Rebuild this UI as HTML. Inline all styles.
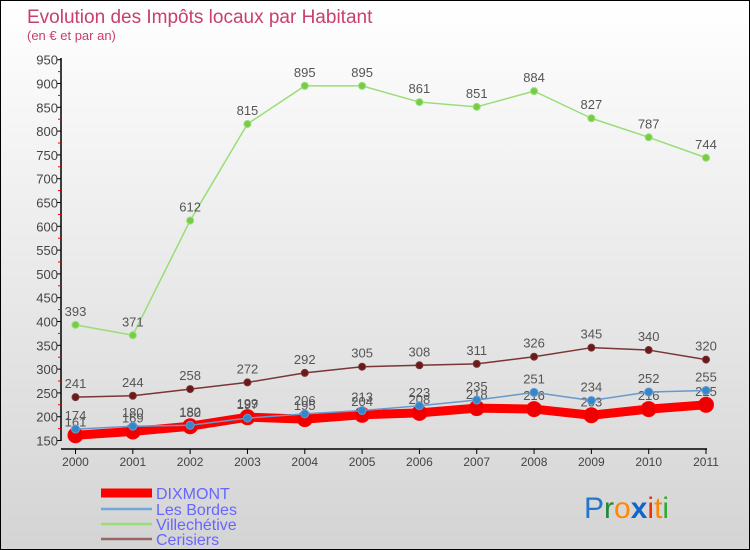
<!DOCTYPE html>
<html><head><meta charset="utf-8">
<style>
html,body{margin:0;padding:0}
body{width:750px;height:550px;overflow:hidden;font-family:"Liberation Sans",sans-serif}
#wrap{position:relative;width:748px;height:548px;border:1px solid #000;background:linear-gradient(#ffffff,#d4d4d4)}
svg{position:absolute;left:0;top:0}
</style></head>
<body>
<div id="wrap">
<svg id="chart" width="748" height="548"></svg>
</div>
<script>
const years=["2000","2001","2002","2003","2004","2005","2006","2007","2008","2009","2010","2011"];
const dixmont=[161,169,180,199,195,204,208,218,216,203,216,225];
const lesBordes=[174,180,182,197,206,213,223,235,251,234,252,255];
const villechetive=[393,371,612,815,895,895,861,851,884,827,787,744];
const cerisiers=[241,244,258,272,292,305,308,311,326,345,340,320];
const yTicks=[150,200,250,300,350,400,450,500,550,600,650,700,750,800,850,900,950];
const seriesNames=["DIXMONT","Les Bordes","Villechétive","Cerisiers"];

const NS="http://www.w3.org/2000/svg";
const svg=document.getElementById('chart');
function el(t,a,p){const e=document.createElementNS(NS,t);for(const k in a)e.setAttribute(k,a[k]);(p||svg).appendChild(e);return e;}
const x=i=>74.5+i*(705-74.5)/11;
const y=v=>439.5-(v-150)*0.476;

let t=el('text',{x:26,y:22,'font-size':19,fill:'#c8406a'});t.textContent='Evolution des Impôts locaux par Habitant';


t=el('text',{x:26,y:39,'font-size':13,fill:'#c8406a'});t.textContent='(en € et par an)';



let a=el('line',{x1:60,y1:57,x2:60,y2:440,stroke:'#000','stroke-width':1.5});


a=el('line',{x1:60,y1:448,x2:706,y2:448,stroke:'#000','stroke-width':1.5});


yTicks.forEach((v,i)=>{
  el('line',{x1:56,y1:y(v),x2:60,y2:y(v),stroke:'#000'});
  if(i<yTicks.length-1){el('line',{x1:57,y1:y(v+25),x2:60,y2:y(v+25),stroke:'#e00'});}
  const l=el('text',{x:57,y:y(v)+5,'font-size':13,fill:'#444','text-anchor':'end'});l.textContent=v;
  
  
});
years.forEach((yr,i)=>{
  el('line',{x1:x(i),y1:448,x2:x(i),y2:453,stroke:'#000'});
  const l=el('text',{x:x(i),y:465,'font-size':12,fill:'#444','text-anchor':'middle'});l.textContent=yr;
  
  
});

function series(data,color,w,r,dot,name){
  const g=el('g',{});
  
  
  el('polyline',{points:data.map((v,i)=>x(i)+','+y(v)).join(' '),fill:'none',stroke:color,'stroke-width':w,'stroke-linejoin':'round'},g);
  data.forEach((v,i)=>{
    const c=el('circle',{cx:x(i),cy:y(v),r:r,fill:dot,stroke:color,'stroke-width':1},g);
    
    
    const l=el('text',{x:x(i),y:y(v)-9,'font-size':13,fill:'#555','text-anchor':'middle'},g);l.textContent=v;
    
    
  });
}
series(villechetive,'#99dd77',1.5,3.5,'#77cc44','villechetive');
series(cerisiers,'#7a3535',1.5,3.5,'#6a1a1a','cerisiers');
series(dixmont,'#ff0000',9,7.5,'#ee0000','dixmont');
series(lesBordes,'#6699cc',1.5,4,'#3388cc','les-bordes');

const legColors=['#ff0000','#6fa8d8','#99dd77','#996666'];
const legW=[9,2.5,2.5,2.5];
const legY=[492,508,523,538];
seriesNames.forEach((n,i)=>{
  const g=el('g',{});
  
  
  el('line',{x1:100,y1:legY[i],x2:151,y2:legY[i],stroke:legColors[i],'stroke-width':legW[i]},g);
  const l=el('text',{x:155,y:legY[i]+6,'font-size':16,fill:'#6666ff'},g);l.textContent=n;
});

const logo=el('text',{x:583,y:517,'font-size':30});


[['P','#2277cc'],['r','#228833'],['o','#ff8800'],['x','#1166cc'],['i','#ee3300'],['t','#ff8800'],['i','#33aa33']].forEach(([c,col])=>{
  const s=el('tspan',{fill:col,'font-weight':c==='x'?'bold':'normal'},logo);s.textContent=c;
});
</script>
</body></html>
